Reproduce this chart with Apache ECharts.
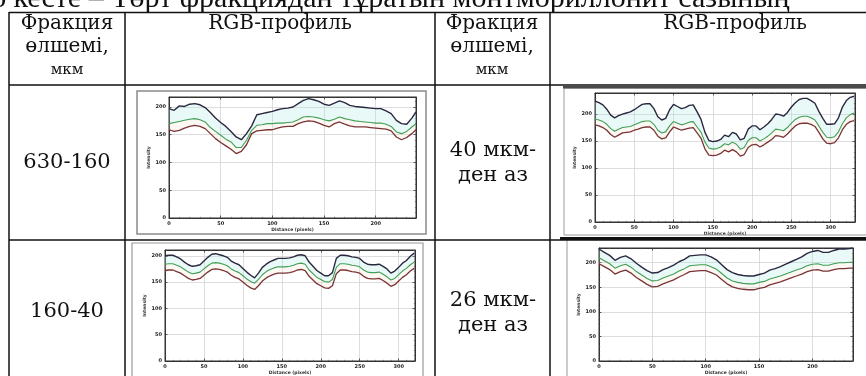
<!DOCTYPE html>
<html><head><meta charset="utf-8">
<script src="https://cdn.jsdelivr.net/npm/echarts@6/dist/echarts.min.js"></script>
<style>html,body{margin:0;padding:0;background:#fff}#c{width:866px;height:376px}</style>
</head><body><div id="c"></div><script>
// ---- data ----
const titleText = '6 кесте – Төрт фракциядан тұратын монтмориллонит сазының';
const headerLeft = ['Фракция', 'өлшемі,', 'мкм'];
const headerProfile = 'RGB-профиль';
const fractions = ['630-160', '160-40', ['40 мкм-', 'ден аз'], ['26 мкм-', 'ден аз']];

const dist1 = [0,5,10,15,20,25,30,35,40,45,50,55,60,65,70,75,80,85,90,95,100,105,110,115,120,125,130,135,140,145,150,155,160,165,170,175,180,185,190,195,200,205,210,215,220,225,230,235,239];
const blue1 = [197,194,202,201,205,206,204,199,190,180,172,165,156,146,141,152,166,186,188,190,192,195,197,198,200,206,212,215,213,210,205,203,207,211,208,203,201,200,199,198,197,197,193,188,176,170,169,180,191];
const green1 = [170,172,174,176,178,179,177,173,163,156,149,142,137,127,127,140,158,167,168,170,170,171,171,172,173,177,182,183,182,180,177,175,178,182,179,177,175,174,173,172,171,171,169,165,155,152,156,164,170];
const red1 = [159,156,158,162,165,167,165,161,152,143,136,130,124,116,120,132,152,157,158,159,159,162,164,165,165,170,173,175,174,171,167,164,170,173,169,166,164,164,164,163,162,161,160,157,146,141,145,152,159];

const dist2 = [0,5,10,15,20,25,30,35,40,45,50,55,60,65,70,75,80,85,90,95,100,105,110,115,120,125,130,135,140,145,150,155,160,165,170,175,180,185,190,195,200,205,210,215,220,225,230,235,240,245,250,255,260,265,270,275,280,285,290,295,300,305,310,315,320,325,330];
const blue2 = [224,221,217,209,198,193,197,200,202,204,208,213,218,219,219,210,195,189,192,208,218,214,210,212,216,217,204,190,166,151,149,150,153,161,158,166,163,152,155,172,178,178,171,176,182,190,200,199,196,203,213,221,227,229,229,225,220,205,192,181,181,182,193,213,225,231,233];
const green2 = [191,189,186,181,173,168,172,175,176,177,180,183,186,187,187,181,170,165,167,178,186,183,180,182,185,186,176,166,148,137,135,136,139,145,143,148,144,135,138,151,156,156,150,154,159,165,172,171,169,175,183,190,194,196,196,193,189,178,166,157,156,158,167,182,193,199,202];
const red2 = [180,178,175,170,162,157,161,165,166,167,170,172,175,176,176,170,159,154,156,167,176,173,170,172,174,175,165,155,135,124,123,124,127,133,130,134,130,122,125,138,143,144,139,143,148,153,160,159,157,163,171,178,182,183,183,181,177,166,154,146,145,147,156,171,181,186,188];

const dist3 = [0,5,10,15,20,25,30,35,40,45,50,55,60,65,70,75,80,85,90,95,100,105,110,115,120,125,130,135,140,145,150,155,160,165,170,175,180,185,190,195,200,205,210,215,220,225,230,235,240,245,250,255,260,265,270,275,280,285,290,295,300,305,310,315,320];
const blue3 = [200,201,201,198,194,188,183,180,181,183,190,197,203,204,202,200,197,190,186,183,176,169,163,158,167,178,184,189,192,195,195,195,196,198,201,202,200,188,180,172,167,162,162,168,195,201,201,200,198,197,195,188,184,183,183,184,180,175,167,171,178,186,191,199,205];
const green3 = [184,185,185,182,179,174,169,166,167,169,175,181,186,187,186,184,181,175,171,168,162,156,151,148,155,164,170,174,177,179,179,179,180,182,185,186,184,173,166,159,155,151,150,155,178,185,185,184,182,181,179,173,169,168,168,169,165,160,154,157,164,171,176,183,188];
const red3 = [172,173,173,170,167,162,157,154,155,157,163,169,174,175,174,172,169,163,159,156,150,144,139,136,143,152,158,162,165,167,167,167,168,170,173,174,172,161,154,147,143,139,138,143,166,173,173,172,170,169,167,161,157,156,156,157,153,148,142,145,152,159,164,171,176];

const dist4 = [0,5,10,15,20,25,30,35,40,45,50,55,60,65,70,75,80,85,90,95,100,105,110,115,120,125,130,135,140,145,150,155,160,165,170,175,180,185,190,195,200,205,210,215,220,225,230,235,238];
const blue4 = [228,221,215,205,211,214,208,199,191,184,179,180,186,190,195,202,207,214,215,216,216,212,206,196,186,180,176,174,173,173,176,179,185,188,192,197,202,207,212,219,223,225,221,221,225,228,228,229,230];
const green4 = [210,204,198,189,194,197,191,182,175,168,163,164,169,173,177,183,188,194,195,196,196,192,187,178,169,163,160,158,157,157,160,162,167,170,173,177,181,185,189,194,197,198,195,195,198,200,200,201,201];
const red4 = [198,192,186,177,182,185,179,170,163,156,151,152,157,161,165,171,176,182,183,184,184,180,175,166,157,151,148,146,145,145,148,150,155,158,161,165,169,173,177,182,185,186,183,183,186,188,188,189,189];

// ---- layout ----
const plots = [
  {x: dist1, b: blue1, g: green1, r: red1, xMax: 239, yMax: 218, grid: {left: 169, top: 97, width: 247, height: 121}},
  {x: dist2, b: blue2, g: green2, r: red2, xMax: 331, yMax: 239, grid: {left: 595, top: 93, width: 260, height: 129}},
  {x: dist3, b: blue3, g: green3, r: red3, xMax: 321, yMax: 211, grid: {left: 165, top: 250, width: 250, height: 113}},
  {x: dist4, b: blue4, g: green4, r: red4, xMax: 238, yMax: 230, grid: {left: 599, top: 248, width: 254, height: 119}}
];

const tinyLabel = {fontSize: 5, fontWeight: 'bold', color: '#222', fontFamily: 'DejaVu Sans'};
const grids = [], xAxes = [], yAxes = [], series = [];
const pair = (xs, ys) => xs.map((v, i) => [v, ys[i]]);
const tickCfg = {
  axisLine: {show: true, onZero: false, lineStyle: {color: '#333', width: 1}},
  axisTick: {show: true, inside: true, length: 2.5, lineStyle: {color: '#333', width: 0.8}},
  minorTick: {show: true, splitNumber: 5, length: 1.2, lineStyle: {color: '#555', width: 0.6}}
};

plots.forEach((p, i) => {
  grids.push(Object.assign({show: true, borderColor: '#333', borderWidth: 1, backgroundColor: '#fff'}, p.grid));
  const xBase = {gridIndex: i, type: 'value', min: 0, max: p.xMax, interval: 50};
  xAxes.push(Object.assign({}, xBase, tickCfg, {
    position: 'bottom',
    axisLabel: Object.assign({margin: 3, showMaxLabel: false}, tinyLabel),
    splitLine: {show: true, lineStyle: {color: '#cfcfcf', width: 0.7}},
    name: 'Distance (pixels)', nameLocation: 'middle', nameGap: 9,
    nameTextStyle: {fontSize: 4.5, fontWeight: 'bold', color: '#333', fontFamily: 'DejaVu Sans'}
  }));
  xAxes.push(Object.assign({}, xBase, tickCfg, {position: 'top', axisLabel: {show: false}, splitLine: {show: false}}));
  const yBase = {gridIndex: i, type: 'value', min: 0, max: p.yMax, interval: 50};
  yAxes.push(Object.assign({}, yBase, tickCfg, {
    position: 'left',
    axisLabel: Object.assign({margin: 3, showMaxLabel: false}, tinyLabel),
    splitLine: {show: true, lineStyle: {color: '#cfcfcf', width: 0.7}},
    name: 'Intensity', nameLocation: 'middle', nameGap: 14, nameRotate: 90,
    nameTextStyle: {fontSize: 4.5, fontWeight: 'bold', color: '#333', fontFamily: 'DejaVu Sans'}
  }));
  yAxes.push(Object.assign({}, yBase, tickCfg, {position: 'right', axisLabel: {show: false}, splitLine: {show: false}}));
  const xi = i * 2, yi = i * 2;
  const common = {type: 'line', xAxisIndex: xi, yAxisIndex: yi, symbol: 'none', silent: true, animation: false};
  // faint tint between the profiles (polygon through the axis scales)
  const band = (hi, lo, fill) => ({
    type: 'custom', xAxisIndex: xi, yAxisIndex: yi, silent: true, animation: false, clip: true,
    data: [0],
    renderItem: (params, api) => {
      const upper = p.x.map((v, k) => api.coord([v, hi[k]]));
      const lower = p.x.map((v, k) => api.coord([v, lo[k]])).reverse();
      return {type: 'polygon', shape: {points: upper.concat(lower)}, style: {fill: fill, stroke: null}};
    }
  });
  series.push(band(p.b, p.g, 'rgba(175,232,225,0.28)'));
  series.push(band(p.g, p.r, 'rgba(245,225,200,0.22)'));
  series.push(Object.assign({}, common, {name: 'Red', data: pair(p.x, p.r), lineStyle: {color: '#7a3434', width: 1.3}}));
  series.push(Object.assign({}, common, {name: 'Green', data: pair(p.x, p.g), lineStyle: {color: '#3f9f55', width: 1.1}}));
  series.push(Object.assign({}, common, {name: 'Blue', data: pair(p.x, p.b), lineStyle: {color: '#2a2840', width: 1.4}}));
});

// ---- table drawing ----
const serif = 'DejaVu Serif';
const g = [];
const line = (x1, y1, x2, y2, w, c) => g.push({type: 'line', silent: true, z: 10, shape: {x1, y1, x2, y2}, style: {stroke: c || '#111', lineWidth: w || 1.5}});
const text = (t, x, y, size, fam, align) => g.push({type: 'text', silent: true, z: 10, style: {text: t, x, y, fontSize: size, fontFamily: fam || serif, fill: '#111', align: align || 'center', verticalAlign: 'middle'}});
const rect = (x, y, w, h, c, lw) => g.push({type: 'rect', silent: true, z: 5, shape: {x, y, width: w, height: h}, style: {fill: 'none', stroke: c, lineWidth: lw}});

// title (mostly cut off at the top)
text(titleText, -9, -1, 30, 'Liberation Serif', 'left');

// table grid
line(9, 12.5, 866, 12.5);
line(9, 85, 866, 85);
line(9, 240, 866, 240);
[9, 125, 435, 550].forEach(x => line(x, 12, x, 376));

// header
text(headerLeft[0], 67, 24, 20);
text(headerLeft[1], 67, 47, 20);
text(headerLeft[2], 67, 70, 15);
text(headerLeft[0], 492, 24, 20);
text(headerLeft[1], 492, 47, 20);
text(headerLeft[2], 492, 70, 15);
text(headerProfile, 280, 24, 20);
text(headerProfile, 735, 24, 20);

// body
text(fractions[0], 67, 163, 21);
text(fractions[1], 67, 312, 21);
text(fractions[2][0], 493, 151, 21);
text(fractions[2][1], 493, 176, 21);
text(fractions[3][0], 493, 301, 21);
text(fractions[3][1], 493, 326, 21);

// picture frames around the profile plots
rect(137, 91, 289, 143, '#8a8a8a', 1.5);
rect(564, 88, 320, 147, '#9a9a9a', 1);
line(563, 87, 866, 87, 3, '#4a4a4a');
rect(132, 243, 291, 150, '#9a9a9a', 1.2);
rect(567, 239, 320, 150, '#9a9a9a', 1);
line(560, 238.5, 866, 238.5, 3, '#111');

const chart = echarts.init(document.getElementById('c'), null, {renderer: 'canvas'});
chart.setOption({
  animation: false,
  backgroundColor: '#fff',
  grid: grids, xAxis: xAxes, yAxis: yAxes, series: series,
  graphic: g
});
</script></body></html>
